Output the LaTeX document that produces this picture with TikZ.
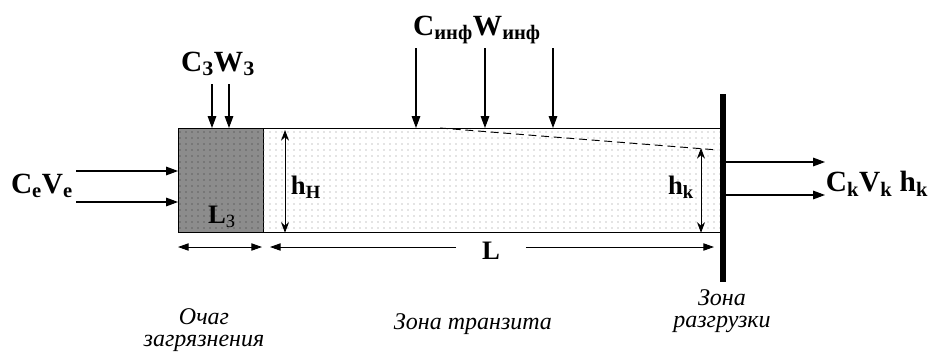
\documentclass[tikz,border=0pt]{standalone}
\usepackage{fontspec}
\setmainfont{Liberation Serif}
\usetikzlibrary{arrows.meta,patterns.meta}
\tikzdeclarepattern{
  name=sanddots,
  type=uncolored,
  bottom left={(-.5pt,-.5pt)},
  top right={(4pt,4pt)},
  tile size={(4.5pt,4.5pt)},
  code={\pgfpathcircle{\pgfpointorigin}{0.5pt}\pgfusepath{fill}}
}
\tikzset{
  flow/.style={-{Triangle[length=9pt,width=6.5pt]}, line width=0.8pt},
  dim/.style={-{Triangle[length=8pt,width=5.5pt]}, line width=0.7pt},
  dimv/.style={{Stealth[length=8pt,width=6pt]}-{Stealth[length=8pt,width=6pt]}, line width=0.7pt},
  lbl/.style={font=\fontsize{22}{24}\selectfont\bfseries, inner sep=0pt},
  dimlbl/.style={font=\fontsize{20}{22}\selectfont\bfseries, inner sep=0pt},
  zone/.style={font=\fontsize{18}{17}\selectfont\itshape, align=center, inner sep=0pt},
}

\begin{document}
\begin{tikzpicture}[x=0.75pt,y=-0.75pt]
  \useasboundingbox (0,0) rectangle (931,354);
  % source and transit zone
  \node[draw, line width=0.8pt, anchor=north west, inner sep=0pt, fill=black!45,
    postaction={pattern=sanddots, pattern color=black!80},
    minimum width=63.75pt, minimum height=78pt] (src) at (178,128) {};
  \node[draw, line width=0.6pt, anchor=north west, inner sep=0pt,
    postaction={pattern=sanddots, pattern color=black!45},
    minimum width=344.25pt, minimum height=78pt] (transit) at (263,128) {};
  \draw[dash pattern=on 6pt off 3.5pt, line width=0.7pt] (440,128) -- (718,150);
  \draw[line width=4.5pt] (723,94) coordinate (wallT) -- (723,282) coordinate (wallB);

  % labels
  \node[lbl] (ceve) at (42,186) {C\textsubscript{e}V\textsubscript{e}};
  \node[lbl] (czwz) at (218,64) {C\textsubscript{З}W\textsubscript{З}};
  \node[lbl] (cinf) at (477,30) {C\textsubscript{инф}W\textsubscript{инф}};
  \node[lbl] (ckvk) at (877,184) {C\textsubscript{k}V\textsubscript{k} h\textsubscript{k}};
  \node[dimlbl] (hn) at (306,187) {h\textsubscript{Н}};
  \node[dimlbl] (hk) at (681,187) {h\textsubscript{k}};
  \node[dimlbl] (lz) at (222,217) {L\textsubscript{\mdseries З}};
  \node[dimlbl, minimum width=52pt] (Llbl) at (491,251) {L};

  % inflow
  \coordinate (ce1) at (76,171);
  \coordinate (ce2) at (76,202);
  \draw[flow] (ce1) -- (ce1 -| src.west);
  \draw[flow] (ce2) -- (ce2 -| src.west);
  \coordinate (cz1) at (212,84);
  \coordinate (cz2) at (229,84);
  \draw[flow] (cz1) -- (cz1 |- src.north);
  \draw[flow] (cz2) -- (cz2 |- src.north);
  \foreach \x in {416,485,553} {
    \coordinate (inf\x) at (\x,48);
    \draw[flow] (inf\x) -- (inf\x |- transit.north);
  }

  % outflow
  \coordinate (ck1) at (825,162);
  \coordinate (ck2) at (825,195);
  \draw[flow] (ck1 -| wallT) ++(2.5pt,0) -- (ck1);
  \draw[flow] (ck2 -| wallT) ++(2.5pt,0) -- (ck2);

  % dimensions
  \draw[dimv] (285,130) coordinate (hnT) -- (hnT |- transit.south);
  \draw[dimv] (701,148) coordinate (hkT) -- (hkT |- transit.south);
  \coordinate (lzMid) at (220,247);
  \draw[dim] (lzMid) -- (178,247);
  \draw[dim] (lzMid) -- (262,247);
  \coordinate (lA) at (270,247);
  \coordinate (lB) at (714,247);
  \draw[dim] (Llbl.west |- lA) -- (lA);
  \draw[dim] (Llbl.east |- lB) -- (lB);

  % zones
  \node[zone] (ochag) at (204,330) {Очаг\\загрязнения};
  \node[zone] (tranz) at (473,324) {Зона транзита};
  \node[zone] (razgr) at (722,311) {Зона\\разгрузки};
\end{tikzpicture}
\end{document}
